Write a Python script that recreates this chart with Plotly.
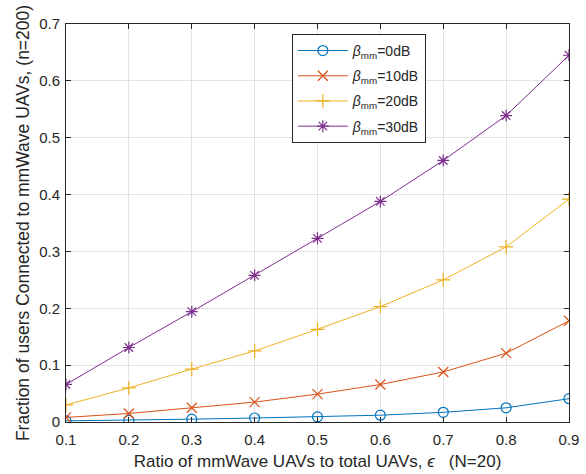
import plotly.graph_objects as go

# Ratio of mmWave UAVs to total UAVs
ratio = [0.1, 0.2, 0.3, 0.4, 0.5, 0.6, 0.7, 0.8, 0.9]

# Fraction of users connected to mmWave UAVs for each beta_mm
frac_0db = [0.002, 0.003, 0.005, 0.007, 0.009, 0.012, 0.017, 0.025, 0.041]
frac_10db = [0.008, 0.015, 0.025, 0.035, 0.049, 0.066, 0.088, 0.121, 0.178]
frac_20db = [0.030, 0.060, 0.093, 0.125, 0.163, 0.203, 0.250, 0.308, 0.392]
frac_30db = [0.066, 0.131, 0.194, 0.258, 0.323, 0.388, 0.460, 0.539, 0.645]

series_names = [
    "<i>β</i><sub>mm</sub>=0dB",
    "<i>β</i><sub>mm</sub>=10dB",
    "<i>β</i><sub>mm</sub>=20dB",
    "<i>β</i><sub>mm</sub>=30dB",
]
series_values = [frac_0db, frac_10db, frac_20db, frac_30db]
colors = ["#0072BD", "#D95319", "#EDB120", "#7E2F8E"]
symbols = ["circle-open", "x-thin-open", "cross-thin-open", "asterisk-open"]

x_ticks = [0.1, 0.2, 0.3, 0.4, 0.5, 0.6, 0.7, 0.8, 0.9]
y_ticks = [0, 0.1, 0.2, 0.3, 0.4, 0.5, 0.6, 0.7]

fig = go.Figure()
for i, (name, vals, col, sym) in enumerate(zip(series_names, series_values, colors, symbols)):
    fig.add_trace(go.Scatter(
        x=ratio, y=vals, name=name, mode="lines+markers",
        legendgroup=f"g{i}",
        line=dict(color=col, width=1),
        marker=dict(symbol=sym, size=10, color=col, line=dict(color=col, width=1.2)),
    ))

font_family = "Liberation Sans, Arial, Helvetica, sans-serif"
axis_common = dict(
    showline=True, linecolor="#262626", linewidth=1, mirror="ticks",
    ticks="inside", ticklen=5, tickcolor="#262626",
    showgrid=True, gridcolor="#e3e3e3", gridwidth=1,
    zeroline=False, tickfont=dict(size=15, color="#262626"),
    automargin=False,
)

fig.update_layout(
    width=586, height=474,
    margin=dict(l=66, r=17, t=24, b=52),
    paper_bgcolor="white", plot_bgcolor="white",
    font=dict(family=font_family, color="#262626"),
    xaxis=dict(
        range=[0.1, 0.9], tickvals=x_ticks, ticktext=[f"{t:g}" for t in x_ticks],
        ticklabelstandoff=4,
        title=dict(text="Ratio of mmWave UAVs to total UAVs, <i>ϵ</i>\u00a0\u00a0\u00a0(N=20)",
                   font=dict(size=17), standoff=8),
        **axis_common,
    ),
    yaxis=dict(
        range=[0, 0.7], tickvals=y_ticks, ticktext=[f"{t:g}" for t in y_ticks],
        ticklabelstandoff=2,
        title=dict(text="Fraction of users Connected to mmWave UAVs, (n=200)",
                   font=dict(size=17.5), standoff=5),
        **axis_common,
    ),
    legend=dict(
        x=0.449, y=0.975, xanchor="left", yanchor="top",
        bgcolor="white", bordercolor="#262626", borderwidth=1,
        font=dict(size=14, color="#262626"),
        itemwidth=50, tracegroupgap=4,
    ),
    showlegend=True,
)

fig.write_html("out.html")
